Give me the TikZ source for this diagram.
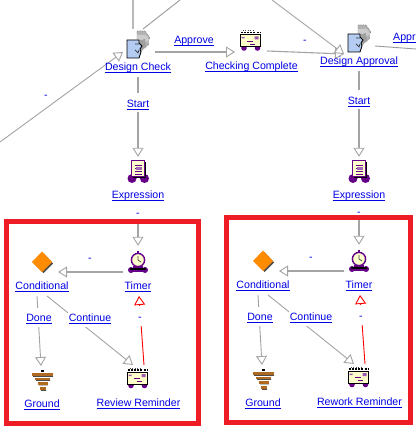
\documentclass[tikz,border=0pt]{standalone}
\usepackage{fontspec}
\setmainfont{Liberation Sans}
\usetikzlibrary{arrows.meta,backgrounds}
\definecolor{lnkblue}{HTML}{0000E6}
\definecolor{framered}{HTML}{EE1C25}
\definecolor{pur}{HTML}{660088}
\definecolor{cream}{HTML}{FFFFCC}
\definecolor{edgegray}{HTML}{B8B8B8}
\definecolor{thingray}{HTML}{9A9A9A}
\definecolor{tipgray}{HTML}{A4A4A4}
\definecolor{faceblue}{HTML}{B4CBF2}
\definecolor{barbrown}{HTML}{B06A20}
\newcommand{\lnk}[1]{\setbox0=\hbox{#1}\rlap{\rule[-1.6pt]{\wd0}{0.8pt}}\box0}
\tikzset{
  lbl/.style={font=\fontsize{10.6}{12}\selectfont,text=lnkblue,inner sep=0pt,text height=11pt,text depth=1.5pt},
  iconlbl/.style={lbl,minimum height=22pt},
  edgelbl/.style={lbl,fill=white,minimum height=19pt,inner xsep=1pt},
  iconbox/.style={inner sep=0pt,minimum width=#1,minimum height=#1},
  tip/.style={-{Triangle[length=9pt,width=11pt,fill=white,line width=0.9pt]}},
  heavy/.style={draw=edgegray,line width=1.9pt,tip,tipgray},
  heavyplain/.style={draw=edgegray,line width=1.9pt},
  light/.style={draw=thingray,line width=0.9pt,tip,tipgray},
  lightplain/.style={draw=thingray,line width=0.9pt},
  redlink/.style={draw=red,line width=0.9pt,tip,red},
  frameline/.style={draw=framered,line width=5pt},
  wheel/.style={fill=pur,draw=none},
  person/.pic={
    \fill[gray!60,draw=gray!90,densely dotted,line width=.7pt] (-1,-14)--(7,-14)--(12,-7)--(10,-4)--(11,-1)--(7,3)--(-1,3)--cycle;
    \fill[gray!40] (-1,-10)--(8,-10)--(11,-5)--(7,-2)--(-1,0)--cycle;
    \fill[gray!75] (0,-4)--(7,-6)--(8,1)--(3,7)--(0,7)--cycle;
    \fill[faceblue,draw=black,line width=.9pt] (-11,-5)--(1,-5)--(1,-2)--(4,1)--(2,4)--(3,7)--(1,13)--(-11,13)--cycle;
    \draw[black!80,line width=.7pt] (-3,-1)--(1,-1) (-3,5)--(0,8)--(1,5);
  },
  expr/.pic={
    \fill[wheel] (-6.5,8.5) circle (4.5) (6,8.5) circle (4.5);
    \fill[black] (-5.5,-8) rectangle (7.5,8);
    \fill[cream,draw=pur,line width=1pt] (-7,-9) rectangle (6,7);
    \draw[pur,line width=.9pt] (-4,-5)--(3,-5) (-4,-2)--(3,-2) (-4,1)--(3,1) (-4,4)--(3,4);
    \fill[pur!60] (-3,-3) rectangle (3,0);
  },
  clock/.pic={
    \fill[wheel] (-7,9) circle (3) (7,9) circle (3);
    \fill[pur] (-5,5) rectangle (5,11);
    \fill[black] (-8,7) rectangle (8,9);
    \fill[cream,draw=pur,line width=1.4pt] (0,-1) circle (6.6);
    \draw[black!70,line width=.8pt] (0,-5)--(0,-1)--(3,1);
    \fill[pur] (-1.2,-10) rectangle (1.2,-8);
  },
  mailer/.pic={
    \fill[wheel] (-6.5,7) circle (2.8) (7,7) circle (2.8);
    \draw[black,line width=1.4pt,dash pattern=on 2pt off 1.2pt] (-10,-8.5)--(10,-8.5);
    \draw[black!70,line width=.7pt,dash pattern=on 1pt off 1.5pt] (-8,-10.5)--(4,-10.5);
    \fill[black] (-10.5,-6.5) rectangle (10.5,6.5);
    \fill[cream] (-9.5,-5.5) rectangle (9.5,5);
    \fill[pur!65] (-9,-4) rectangle (-6,-2.5) (4,-4.5) rectangle (8,-1.5);
    \draw[pur,line width=.9pt] (-4,0)--(2,0) (-1,3)--(4,3);
  },
  ground/.pic={
    \fill[black] (-1.5,-11.5) rectangle (1.5,-9);
    \fill[black!70] (-9,-5) rectangle (11,-4.2) (-6,-1) rectangle (8,-0.2) (-3,3.5) rectangle (6,4.3) (-1,9) rectangle (4,9.8);
    \fill[barbrown] (-10,-8) rectangle (11,-5);
    \fill[barbrown] (-7,-3) rectangle (8,-1);
    \fill[barbrown] (-4,1) rectangle (6,3.5);
    \fill[barbrown] (-2,6) rectangle (4,9);
  },
  choice/.pic={
    \fill[black!70] (1.5,-9) -- (11,1.5) -- (1.5,11) -- (-8,1.5) -- cycle;
    \fill[orange!90!yellow] (0,-10.5) -- (10,0) -- (0,10) -- (-10,0) -- cycle;
  }
}
% Conditional / timer / reminder group; #1 name prefix, #2 reminder label, #3 x shift, #4 y shift
\newcommand{\remindergroup}[4]{
  \begin{scope}[shift={(#3,#4)}]
    \node[iconbox=30pt] (#1timer) at (138,261) {};
    \pic at (138,261) {clock};
    \node[iconlbl] (#1timerlbl) at (138,285) {\lnk{Timer}};
    \node[iconbox=30pt] (#1cond) at (42,262) {};
    \pic at (42,262) {choice};
    \node[iconlbl] (#1condlbl) at (42,285) {\lnk{Conditional}};
    \node[iconbox=30pt] (#1rem) at (137.5,379) {};
    \pic at (137.5,378.5) {mailer};
    \node[iconlbl] (#1remlbl) at (138.5,402) {\lnk{#2}};
    \node[iconbox=30pt] (#1gnd) at (42,381) {};
    \pic at (42,381) {ground};
    \node[iconlbl] (#1gndlbl) at (42,403) {\lnk{Ground}};
    \node[lbl] (#1dashcond) at (90,257) {-};
    \node[edgelbl] (#1done) at (39,317) {\lnk{Done}};
    \node[edgelbl] (#1cont) at (90,317) {\lnk{Continue}};
    \node[edgelbl,minimum height=20pt] (#1dashrem) at (140,316) {-};
    \coordinate (#1timerport) at (123,272);
    \coordinate (#1condport) at (58,272);
    \coordinate (#1doneout) at (37,296);
    \coordinate (#1contout) at (47,296);
    \coordinate (#1gndin) at (41,366);
    \coordinate (#1remin) at (133,365);
    \coordinate (#1remout) at (144,365);
    \coordinate (#1timerin) at (139,296);
    \begin{pgfonlayer}{background}
      \draw[heavy] (#1timerport) -- (#1condport);
      \draw[light] (#1doneout) -- (#1gndin);
      \draw[light] (#1contout) -- (#1remin);
      \draw[redlink] (#1remout) -- (#1timerin);
    \end{pgfonlayer}
  \end{scope}
}
\begin{document}
\begin{tikzpicture}[x=1pt,y=-1pt]
\useasboundingbox (0,0) rectangle (416,446);
\clip (0,0) rectangle (416,446);
\begin{pgfonlayer}{background}
  \fill[white] (0,0) rectangle (416,446);
\end{pgfonlayer}

% upper row
\node[iconbox=32pt] (dc) at (139,45) {};
\pic at (138,45) {person};
\node[iconlbl] (dclbl) at (138,66) {\lnk{Design Check}};
\node[iconbox=30pt] (cc) at (250.5,41) {};
\pic at (250.5,41) {mailer};
\node[iconlbl] (cclbl) at (251.5,65) {\lnk{Checking Complete}};
\node[iconbox=30pt] (da) at (360,39) {};
\pic at (359,39) {person};
\node[iconlbl] (dalbl) at (359,60) {\lnk{Design Approval}};

\node[iconbox=30pt] (expa) at (138,172) {};
\pic at (138.5,170) {expr};
\node[iconlbl] (expalbl) at (138,194) {\lnk{Expression}};
\node[iconbox=30pt] (expb) at (359,172) {};
\pic at (359.5,170) {expr};
\node[iconlbl] (expblbl) at (359,194) {\lnk{Expression}};

\node[edgelbl] (starta) at (138,103) {\lnk{Start}};
\node[edgelbl] (startb) at (359,100) {\lnk{Start}};
\node[lbl] (approve) at (194,39) {\lnk{Approve}};
\node[lbl,anchor=west] (approveb) at (393,36) {\lnk{Appr}};
\node[lbl] (dashleft) at (46,94) {-};
\node[lbl] (dashcc) at (305,39) {-};
\node[lbl] (dasha) at (138,212) {-};
\node[lbl] (dashb) at (359,211) {-};

\coordinate (topa) at (133,0);
\coordinate (topain) at (133,29);
\coordinate (topb) at (180,0);
\coordinate (topbin) at (143,29);
\coordinate (leftin) at (0,142);
\coordinate (dcwest) at (123,52);
\coordinate (dceast) at (155,52);
\coordinate (ccwest) at (235,52);
\coordinate (cceast) at (267,51);
\coordinate (dawest) at (344,54);
\coordinate (topc) at (272,0);
\coordinate (daeast) at (375,46);
\coordinate (rightout) at (416,49);

\remindergroup{a}{Review Reminder}{0}{0}
\remindergroup{b}{Rework Reminder}{221}{-1}

\begin{pgfonlayer}{background}
  \draw[heavyplain] (topa) -- (topain);
  \draw[lightplain] (topb) -- (topbin);
  \draw[light] (leftin) -- (dcwest);
  \draw[draw=thingray,line width=1.1pt,tip,tipgray] (dceast) -- (ccwest);
  \draw[draw=thingray,line width=1.1pt,tip,tipgray] (cceast) -- (dawest);
  \draw[light] (topc) -- (dawest);
  \draw[lightplain] (daeast) -- (rightout);
  \draw[heavy] (dclbl.south) -- (expa.north);
  \draw[heavy] (dalbl.south) -- (expb.north);
  \draw[heavy,shorten <=14pt] (expalbl.south) -- (atimer.north);
  \draw[heavy,shorten <=14pt] (expblbl.south) -- (btimer.north);
\end{pgfonlayer}

% highlight frames
\node[frameline,inner sep=0pt,minimum width=192pt,minimum height=202pt] (framea) at (102.5,322.5) {};
\node[frameline,inner sep=0pt,minimum width=184pt,minimum height=205pt] (frameb) at (318.5,320) {};
\end{tikzpicture}
\end{document}
